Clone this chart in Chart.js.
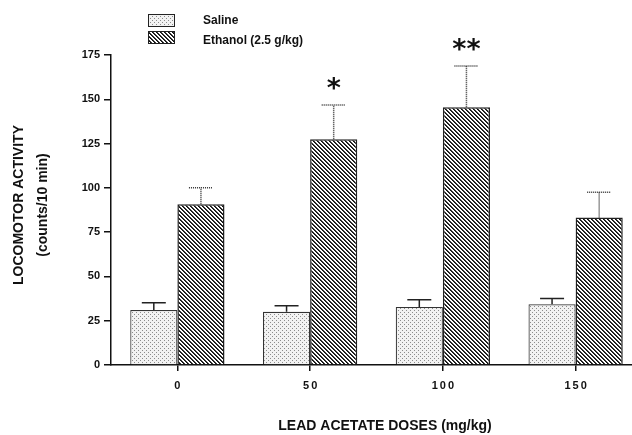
<!DOCTYPE html>
<html>
<head>
<meta charset="utf-8">
<script src="https://cdn.jsdelivr.net/npm/chart.js@4"></script>
<style>
  body { margin: 0; background: #fff; }
</style>
</head>
<body>
<canvas id="grafico" width="632" height="435"></canvas>
<script>
// dados
const doses = ['0', '50', '100', '150'];
const salineMean = [31.0, 30.1, 32.8, 34.3];
const salineSem = [4.2, 3.4, 4.0, 3.3];
const ethanolMean = [90.7, 127.4, 145.5, 83.2];
const ethanolSem = [9.4, 19.4, 23.3, 14.3];
const sigMarks = ['', '*', '**', ''];
const yMax = 175;
const yStep = 25;

const canvas = document.getElementById('grafico');
const ctx = canvas.getContext('2d');
const FONT = '"Liberation Sans", Arial, sans-serif';

// padrao pontilhado (salina)
function dotPattern() {
    const c = document.createElement('canvas');
    c.width = 4; c.height = 4;
    const g = c.getContext('2d');
    g.fillStyle = '#f2f2f2';
    g.fillRect(0, 0, 4, 4);
    g.fillStyle = '#8c8c8c';
    g.fillRect(0, 0, 1, 1);
    g.fillRect(2, 2, 1, 1);
    return ctx.createPattern(c, 'repeat');
}

// hachura diagonal (etanol)
function hatchPattern() {
    const c = document.createElement('canvas');
    c.width = 4; c.height = 4;
    const g = c.getContext('2d');
    g.fillStyle = '#ffffff';
    g.fillRect(0, 0, 4, 4);
    for (let i = 0; i < 4; i++) {
        g.fillStyle = '#111';
        g.fillRect(i, i, 1, 1);
        g.fillStyle = '#3a3a3a';
        g.fillRect((i + 1) % 4, i, 1, 1);
    }
    return ctx.createPattern(c, 'repeat');
}

// o eixo x original continua alem da borda direita da imagem
const esticaEixo = {
    id: 'esticaEixo',
    afterLayout(chart) {
        const x = chart.scales.x;
        x.right = chart.width + 10;
        x.width = x.right - x.left;
        chart.chartArea.right = x.right;
        chart.chartArea.width = x.width;
        x.configure();
    }
};

const errorBars = {
    id: 'errorBars',
    afterDatasetsDraw(chart) {
        const c = chart.ctx;
        const y = chart.scales.y;
        chart.data.datasets.forEach((ds, di) => {
            const meta = chart.getDatasetMeta(di);
            meta.data.forEach((bar, i) => {
                const top = y.getPixelForValue(ds.data[i] + ds.sem[i]);
                c.save();
                c.strokeStyle = ds.errColor;
                c.lineWidth = 1.5;
                if (ds.errDash) c.setLineDash(ds.errDash);
                c.beginPath();
                c.moveTo(bar.x, bar.y);
                c.lineTo(bar.x, top);
                c.moveTo(bar.x - 12, top);
                c.lineTo(bar.x + 12, top);
                c.stroke();
                c.restore();
                if (ds.marks && ds.marks[i]) {
                    c.save();
                    c.font = 'bold 27px "DejaVu Sans", sans-serif';
                    c.fillStyle = '#111';
                    c.textAlign = 'center';
                    const m = c.measureText(ds.marks[i]);
                    const yc = top - 21;
                    c.fillText(ds.marks[i], bar.x, yc + (m.actualBoundingBoxAscent - m.actualBoundingBoxDescent) / 2);
                    c.restore();
                }
            });
        });
    }
};

const textos = {
    id: 'textos',
    afterDraw(chart) {
        const c = chart.ctx;
        const a = chart.chartArea;
        const x = chart.scales.x;
        c.save();
        c.fillStyle = '#111';
        c.textBaseline = 'middle';

        // rotulos do eixo x (espacados)
        c.font = 'bold 11px ' + FONT;
        c.letterSpacing = '2px';
        c.textAlign = 'left';
        doses.forEach((d, i) => {
            const w = c.measureText(d).width - 2;
            c.fillText(d, x.getPixelForTick(i) - w / 2, a.bottom + 21);
        });
        c.letterSpacing = '0px';

        // titulo do eixo x
        c.font = 'bold 14px ' + FONT;
        c.textAlign = 'center';
        c.fillText('LEAD ACETATE DOSES (mg/kg)', a.left + 274, a.bottom + 61);

        // titulo do eixo y
        c.save();
        c.translate(19, (a.top + a.bottom) / 2 - 5);
        c.rotate(-Math.PI / 2);
        c.fillText('LOCOMOTOR ACTIVITY', 0, 0);
        c.fillText('(counts/10 min)', 0, 24);
        c.restore();

        // legenda
        c.font = 'bold 12px ' + FONT;
        c.textAlign = 'left';
        chart.data.datasets.forEach((ds, i) => {
            const by = 14 + i * 17;
            c.fillStyle = ds.backgroundColor;
            c.fillRect(148, by, 26, 12);
            c.strokeStyle = '#222';
            c.lineWidth = 1;
            c.strokeRect(148.5, by + 0.5, 26, 12);
            c.fillStyle = '#111';
            c.fillText(ds.label, 203, by + 7 + i * 3);
        });
        c.restore();
    }
};

const grafico = new Chart(ctx, {
    type: 'bar',
    data: {
        labels: doses,
        datasets: [{
            label: 'Saline',
            data: salineMean,
            sem: salineSem,
            backgroundColor: dotPattern(),
            borderColor: '#333',
            borderWidth: 1.2,
            errColor: '#222'
        }, {
            label: 'Ethanol (2.5 g/kg)',
            data: ethanolMean,
            sem: ethanolSem,
            marks: sigMarks,
            backgroundColor: hatchPattern(),
            borderColor: '#222',
            borderWidth: 1.5,
            errColor: '#333',
            errDash: [1, 1]
        }]
    },
    options: {
        responsive: false,
        animation: false,
        devicePixelRatio: 1,
        categoryPercentage: 0.71,
        barPercentage: 1.0,
        layout: { padding: { top: 55, right: 0, left: 0, bottom: 0 } },
        plugins: {
            legend: { display: false },
            tooltip: { enabled: false }
        },
        scales: {
            x: {
                offset: true,
                grid: { offset: false, drawOnChartArea: false, drawTicks: true, tickLength: 6, color: '#111', lineWidth: 1.5 },
                border: { display: true, color: '#111', width: 1.5 },
                ticks: { display: false },
                afterFit: s => { s.height = 70; }
            },
            y: {
                min: 0,
                max: yMax,
                ticks: {
                    stepSize: yStep,
                    color: '#111',
                    padding: 4,
                    font: { family: FONT, size: 11, weight: 'bold' }
                },
                grid: { drawOnChartArea: false, tickLength: 7, color: '#111', lineWidth: 1.5 },
                border: { display: true, color: '#111', width: 1.5 },
                afterFit: s => { s.width = 111; }
            }
        }
    },
    plugins: [esticaEixo, errorBars, textos]
});
</script>
</body>
</html>
